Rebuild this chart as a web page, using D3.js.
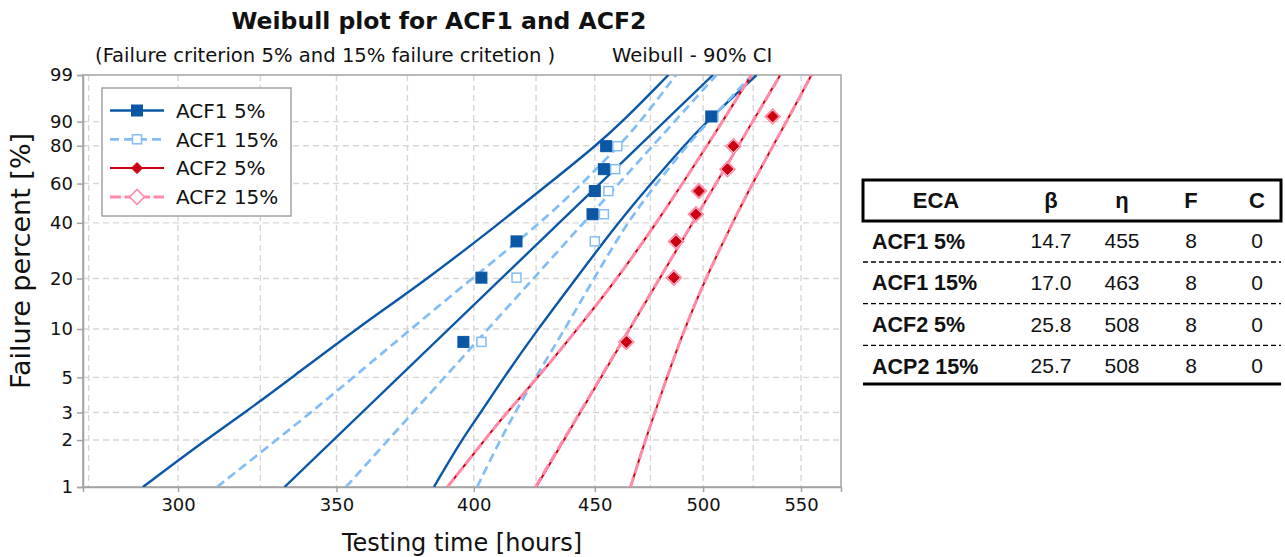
<!DOCTYPE html>
<html>
<head>
<meta charset="utf-8">
<script src="https://cdn.jsdelivr.net/npm/d3@7"></script>
<style>
  body { margin: 0; background: #fff; }
  svg { display: block; font-family: "DejaVu Sans", sans-serif; }
</style>
</head>
<body>
<svg id="chart" width="1285" height="557"></svg>
<script>
// ---- axis ticks ----
const yTicks = [1, 2, 3, 5, 10, 20, 40, 60, 80, 90, 99];
const xTicks = [300, 350, 400, 450, 500, 550];
const xGrid = [275, 300, 325, 350, 375, 400, 425, 450, 475, 500, 525, 550];

// ---- plotted failures: median rank [%] and failure time [hours] ----
const rankPct = [8.33, 20.24, 32.14, 44.05, 55.95, 67.86, 79.76, 91.67];
const acf1At5 = [396, 403, 417, 449, 450, 454, 455, 504];
const acf1At15 = [403, 417, 450, 454, 456, 459, 460, 505];
const acf2At5 = [464, 486, 487, 496.5, 498, 512, 515, 535];
const acf2At15 = [464, 486, 487, 496.5, 498, 512, 515, 535];

// ---- 90% confidence bounds, time [hours] at each percent ----
const boundPct = [1, 2, 3, 5, 10, 20, 40, 60, 80, 90, 99];
const acf1At5Lower = [289.9, 308.1, 320.2, 335.2, 356.7, 382.6, 410.3, 430.4, 450.5, 462.3, 483.4];
const acf1At5Upper = [384.8, 395.2, 402.8, 411.9, 425.8, 441.8, 460.3, 475.3, 490.8, 501.7, 526.7];
const acf1At15Lower = [311.6, 330.1, 341.4, 355.8, 376.3, 399.3, 427.0, 444.6, 460.7, 470.5, 487.0];
const acf1At15Upper = [401.3, 410.4, 416.4, 424.8, 437.1, 449.6, 464.3, 477.8, 492.2, 502.6, 524.4];
const acf2At5Lower = [389.9, 404.2, 413.1, 425.8, 442.5, 460.0, 477.8, 490.1, 501.9, 509.5, 524.1];
const acf2At5Upper = [465.9, 472.7, 477.1, 482.7, 491.0, 501.2, 514.5, 524.6, 535.2, 542.3, 555.6];
const acf2At15Lower = [389.9, 404.2, 413.1, 425.8, 442.5, 460.0, 477.8, 490.1, 501.9, 509.5, 524.1];
const acf2At15Upper = [465.9, 472.7, 477.1, 482.7, 491.0, 501.2, 514.5, 524.6, 535.2, 542.3, 555.6];

// ---- parameter table ----
const tableHeader = ["ECA", "β", "η", "F", "C"];
const tableNames = ["ACF1 5%", "ACF1 15%", "ACF2 5%", "ACP2 15%"];
const tableBeta = [14.7, 17.0, 25.8, 25.7];
const tableEta = [455, 463, 508, 508];
const tableF = [8, 8, 8, 8];
const tableC = [0, 0, 0, 0];

// ---- layout ----
const plot = { left: 83, right: 841, top: 75, bottom: 487 };
const svg = d3.select("#chart");

const x = d3.scaleLog().domain([273.5, 571.8]).range([plot.left, plot.right]);
const wb = p => Math.log(-Math.log(1 - p / 100));            // Weibull probability transform
const yLin = d3.scaleLinear().domain([wb(1), wb(99)]).range([plot.bottom, plot.top]);
const y = p => yLin(wb(p));

svg.append("defs").append("clipPath").attr("id", "plotClip")
  .append("rect")
  .attr("x", plot.left).attr("y", plot.top)
  .attr("width", plot.right - plot.left).attr("height", plot.bottom - plot.top);

// ---- grid ----
const grid = svg.append("g").attr("stroke", "#d6d6d6").attr("stroke-width", 1.4)
  .attr("stroke-dasharray", "6,4");
grid.selectAll("line.v").data(xGrid).join("line")
  .attr("x1", d => x(d)).attr("x2", d => x(d))
  .attr("y1", plot.top).attr("y2", plot.bottom);
grid.selectAll("line.h").data(yTicks.slice(1, -1)).join("line")
  .attr("x1", plot.left).attr("x2", plot.right)
  .attr("y1", d => y(d)).attr("y2", d => y(d));

// ---- frame ----
svg.append("rect")
  .attr("x", plot.left).attr("y", plot.top)
  .attr("width", plot.right - plot.left).attr("height", plot.bottom - plot.top)
  .attr("fill", "none").attr("stroke", "#a3a3a3").attr("stroke-width", 1.5);

// ---- axes ----
const xAxis = svg.append("g").attr("transform", `translate(0,${plot.bottom})`)
  .call(d3.axisBottom(x).tickValues(xTicks).tickFormat(d3.format("d")).tickSize(5).tickPadding(6));
const yAxis = svg.append("g").attr("transform", `translate(${plot.left},0)`)
  .call(d3.axisLeft(yLin).tickValues(yTicks.map(wb)).tickFormat((d, i) => yTicks[i]).tickSize(6).tickPadding(4));
[xAxis, yAxis].forEach(a => {
  a.select(".domain").attr("stroke", "#a3a3a3").attr("stroke-width", 1.5);
  a.selectAll(".tick line").attr("stroke", "#a3a3a3").attr("stroke-width", 1.5);
  a.selectAll(".tick text").attr("fill", "#111").attr("font-size", 18)
    .attr("font-family", "DejaVu Sans, sans-serif");
});

// ---- series ----
const series = [
  { name: "ACF1 5%", color: "#0b57a6", dash: null, width: 2.4, t: acf1At5, lo: acf1At5Lower, hi: acf1At5Upper, k: 0, mark: "square", fill: true },
  { name: "ACF1 15%", color: "#82bdf6", dash: "9,5", width: 2.7, t: acf1At15, lo: acf1At15Lower, hi: acf1At15Upper, k: 1, mark: "square", fill: false },
  { name: "ACF2 5%", color: "#cc0010", dash: null, width: 2, t: acf2At5, lo: acf2At5Lower, hi: acf2At5Upper, k: 2, mark: "diamond", fill: true },
  { name: "ACF2 15%", color: "#ff8aa8", dash: "11,3.5", width: 3, t: acf2At15, lo: acf2At15Lower, hi: acf2At15Upper, k: 3, mark: "diamond", fill: false }
];

const curve = d3.line().x(d => x(d[1])).y(d => y(d[0])).curve(d3.curveBasis);
const lines = svg.append("g").attr("clip-path", "url(#plotClip)").attr("fill", "none");

series.forEach(s => {
  const beta = tableBeta[s.k], eta = tableEta[s.k];
  const fitTime = p => eta * Math.pow(-Math.log(1 - p / 100), 1 / beta);
  const fit = [1, 99].map(p => [p, fitTime(p)]);
  const lower = boundPct.map((p, i) => [p, s.lo[i]]);
  const upper = boundPct.map((p, i) => [p, s.hi[i]]);
  [lower, fit, upper].forEach(pts => {
    lines.append("path").attr("d", curve(pts))
      .attr("stroke", s.color).attr("stroke-width", s.width)
      .attr("stroke-dasharray", s.dash);
  });
});

// ---- markers ----
function drawMarker(g, s, cx, cy) {
  if (s.mark === "square") {
    const a = s.fill ? 11 : 9;
    g.append("rect").attr("x", cx - a / 2).attr("y", cy - a / 2).attr("width", a).attr("height", a)
      .attr("fill", s.fill ? s.color : "#fff").attr("stroke", s.color)
      .attr("stroke-width", s.fill ? 1 : 1.5);
  } else {
    const r = s.fill ? 5.5 : 7.5;
    g.append("path").attr("d", `M${cx},${cy - r}L${cx + r},${cy}L${cx},${cy + r}L${cx - r},${cy}Z`)
      .attr("fill", s.fill ? s.color : "#fff").attr("stroke", s.color)
      .attr("stroke-width", s.fill ? 1 : 1.5);
  }
}
const marks = svg.append("g");
[series[1], series[0], series[3], series[2]].forEach(s => {
  s.t.forEach((t, i) => drawMarker(marks, s, x(t), y(rankPct[i])));
});

// ---- legend ----
const lg = svg.append("g").attr("transform", "translate(102,88)");
lg.append("rect").attr("width", 189).attr("height", 128)
  .attr("fill", "#fff").attr("stroke", "#a3a3a3").attr("stroke-width", 1.5);
series.forEach((s, i) => {
  const cy = 22.5 + i * 28.8;
  lg.append("line").attr("x1", 8).attr("x2", 62).attr("y1", cy).attr("y2", cy)
    .attr("stroke", s.color).attr("stroke-width", s.width).attr("stroke-dasharray", s.dash);
  drawMarker(lg, s, 35, cy);
  lg.append("text").attr("x", 74).attr("y", cy).attr("dy", "0.36em")
    .attr("font-size", 20).attr("fill", "#111").text(s.name);
});

// ---- titles ----
svg.append("text").attr("x", 439).attr("y", 29).attr("text-anchor", "middle")
  .attr("font-size", 23.5).attr("font-weight", "bold").attr("fill", "#111")
  .text("Weibull plot for ACF1 and ACF2");
svg.append("text").attr("x", 95).attr("y", 62).attr("font-size", 19.6).attr("fill", "#111")
  .text("(Failure criterion 5% and 15% failure critetion )");
svg.append("text").attr("x", 612).attr("y", 62).attr("font-size", 19.6).attr("fill", "#111")
  .text("Weibull - 90% CI");
svg.append("text").attr("x", 462).attr("y", 551).attr("text-anchor", "middle")
  .attr("font-size", 24).attr("fill", "#111").text("Testing time [hours]");
svg.append("text").attr("transform", "translate(30,261) rotate(-90)").attr("text-anchor", "middle")
  .attr("font-size", 27).attr("fill", "#111").text("Failure percent [%]");

// ---- parameter table ----
const tb = svg.append("g").attr("font-family", "Liberation Sans, Arial, sans-serif").attr("fill", "#111");
const tLeft = 863, tRight = 1281;
const colX = [936, 1051, 1122, 1191, 1257];
tb.append("rect").attr("x", tLeft).attr("y", 180).attr("width", tRight - tLeft).attr("height", 41)
  .attr("fill", "none").attr("stroke", "#000").attr("stroke-width", 3);
tableHeader.forEach((h, j) => {
  tb.append("text").attr("x", colX[j]).attr("y", 208).attr("text-anchor", "middle")
    .attr("font-size", 22).attr("font-weight", "bold").text(h);
});
tableNames.forEach((n, i) => {
  const cy = 241 + i * 41.7;
  tb.append("text").attr("x", 872).attr("y", cy).attr("dy", "0.35em")
    .attr("font-size", 21.5).attr("font-weight", "bold").text(n);
  const vals = [d3.format(".1f")(tableBeta[i]), tableEta[i], tableF[i], tableC[i]];
  vals.forEach((v, j) => {
    tb.append("text").attr("x", colX[j + 1]).attr("y", cy).attr("dy", "0.35em")
      .attr("text-anchor", "middle").attr("font-size", 21).text(v);
  });
  if (i < tableNames.length - 1) {
    tb.append("line").attr("x1", tLeft).attr("x2", tRight).attr("y1", cy + 21).attr("y2", cy + 21)
      .attr("stroke", "#000").attr("stroke-width", 1.3).attr("stroke-dasharray", "5,3");
  }
});
tb.append("line").attr("x1", tLeft).attr("x2", tRight).attr("y1", 384).attr("y2", 384)
  .attr("stroke", "#000").attr("stroke-width", 3);
</script>
</body>
</html>
